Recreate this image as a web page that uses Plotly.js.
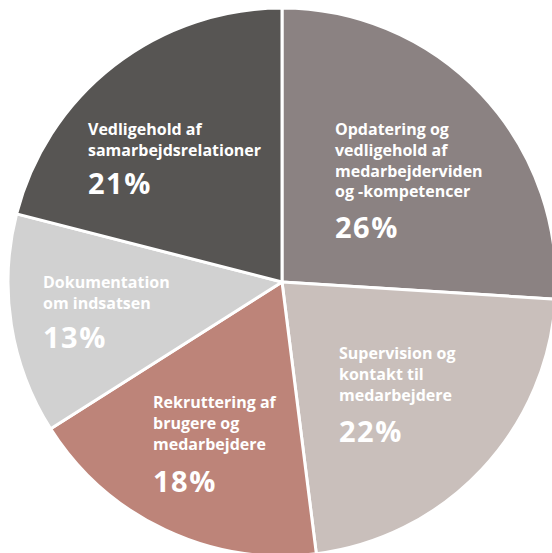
<!DOCTYPE html>
<html>
<head>
<meta charset="utf-8">
<script src="https://cdn.plot.ly/plotly-3.0.1.min.js"></script>
<style>
html,body{margin:0;padding:0;overflow:hidden;background:#fff;}
#chart{width:562px;height:562px;}
</style>
</head>
<body>
<div id="chart"></div>
<script>
// Data (clockwise from 12 o'clock)
const categories = [
  "Opdatering og<br>vedligehold af<br>medarbejderviden<br>og -kompetencer",
  "Supervision og<br>kontakt til<br>medarbejdere",
  "Rekruttering af<br>brugere og<br>medarbejdere",
  "Dokumentation<br>om indsatsen",
  "Vedligehold af<br>samarbejdsrelationer"
];
const shares = [26, 22, 18, 13, 21];
const sliceColors = ["#8b8282", "#c9bfbb", "#bd8479", "#d1d1d1", "#575553"];

// Label placement (pixels in the page)
const labelPos = [
  {x: 333, top: 115.5, pctTop: 205},
  {x: 337, top: 339.5, pctTop: 409},
  {x: 151, top: 388.5, pctTop: 459},
  {x: 41,  top: 268.5, pctTop: 315},
  {x: 86,  top: 115.5, pctTop: 161}
];

const W = 562, H = 562, mL = 8, mT = 8, mR = 6, mB = 6;
const pw = W - mL - mR, ph = H - mT - mB;
const px2x = p => (p - mL) / pw;
const px2y = p => 1 - (p - mT) / ph;

const FONT = "Open Sans, Noto Sans, sans-serif";
const annotations = [];
categories.forEach((c, i) => {
  const p = labelPos[i];
  annotations.push({
    xref: "paper", yref: "paper", x: px2x(p.x), y: px2y(p.top),
    xanchor: "left", yanchor: "top", align: "left", showarrow: false,
    text: c, font: {family: FONT, size: 16, color: "#ffffff", weight: "bold"}
  });
  annotations.push({
    xref: "paper", yref: "paper", x: px2x(p.x), y: px2y(p.pctTop),
    xanchor: "left", yanchor: "top", align: "left", showarrow: false,
    text: shares[i] + "%",
    font: {family: FONT, size: 29, color: "#ffffff", weight: "bold"}
  });
});

Plotly.newPlot("chart", [{
  type: "pie",
  values: shares,
  labels: categories,
  sort: false,
  direction: "clockwise",
  rotation: 0,
  textinfo: "none",
  hoverinfo: "none",
  marker: {colors: sliceColors, line: {color: "#ffffff", width: 3}}
}], {
  width: W, height: H,
  margin: {l: mL, r: mR, t: mT, b: mB, pad: 0},
  showlegend: false,
  paper_bgcolor: "#ffffff",
  annotations: annotations
}, {displayModeBar: false, staticPlot: true}).then(() => {
  document.querySelectorAll(".annotation-text").forEach(t => {
    if (/%/.test(t.textContent)) t.style.letterSpacing = "1.5px";
  });
});
</script>
</body>
</html>
